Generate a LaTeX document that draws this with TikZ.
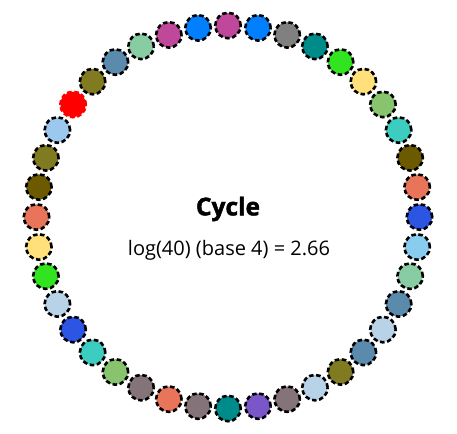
\documentclass[tikz,border=0pt]{standalone}
\usepackage{fontspec}
\usetikzlibrary{calc}
\setmainfont{Open Sans}
\newfontfamily\heavyfont[FakeBold=1.8]{Open Sans Bold}
\definecolor{cMag}{HTML}{C0489A}
\definecolor{cBlue}{HTML}{0080FF}
\definecolor{cGray}{HTML}{808080}
\definecolor{cTeal}{HTML}{008B8B}
\definecolor{cGreen}{HTML}{32E320}
\definecolor{cYellow}{HTML}{FFE07A}
\definecolor{cLgreen}{HTML}{88C46E}
\definecolor{cTurq}{HTML}{3CCCC0}
\definecolor{cDolive}{HTML}{6B5A00}
\definecolor{cSalmon}{HTML}{E8755A}
\definecolor{cRoyal}{HTML}{2C55E4}
\definecolor{cSky}{HTML}{88CDEE}
\definecolor{cMint}{HTML}{88CCA4}
\definecolor{cSteel}{HTML}{5A8AAC}
\definecolor{cLsteel}{HTML}{B8D2E8}
\definecolor{cOlive}{HTML}{807A20}
\definecolor{cMauve}{HTML}{85737A}
\definecolor{cPurple}{HTML}{7B56C8}
\definecolor{cRed}{HTML}{FF0000}
\definecolor{cLblue}{HTML}{9CC8F0}
\tikzset{
  ball/.style={circle, minimum size=25.5pt, inner sep=0pt, line width=2.6pt,
    draw=black, dash pattern=on 4.5pt off 2.6pt},
}
\begin{document}
\begin{tikzpicture}[x=1pt,y=-1pt]
\useasboundingbox (0,0) rectangle (457,433);
\coordinate (ctr) at (228,217);
\foreach \ang/\col [count=\i] in {
  90/cMag, 81/cBlue, 72/cGray, 63/cTeal, 54/cGreen, 45/cYellow, 36/cLgreen,
  27/cTurq, 18/cDolive, 9/cSalmon, 0/cRoyal, -9/cSky, -18/cMint, -27/cSteel,
  -36/cLsteel, -45/cSteel, -54/cOlive, -63/cLsteel, -72/cMauve, -81/cPurple,
  -90/cTeal, -99/cMauve, -108/cSalmon, -117/cMauve, -126/cLgreen, -135/cTurq,
  -144/cRoyal, -153/cLsteel, -162/cGreen, -171/cYellow, -180/cSalmon,
  -189/cDolive, -198/cOlive, -207/cLblue, -216/cRed, -225/cOlive,
  -234/cSteel, -243/cMint, -252/cMag, -261/cBlue} {
  \ifnum\i=35
    \node[ball, fill=\col, draw=\col] (b\i) at ($(ctr)+(\ang:191.5 and -191.5)$) {};
  \else
    \node[ball, fill=\col] (b\i) at ($(ctr)+(\ang:191.5 and -191.5)$) {};
  \fi
}
\node[font=\heavyfont\fontsize{24.5}{28}\selectfont] (title) at (228,209) {Cycle};
\node[font=\fontsize{20}{24}\selectfont] (sub) at (229,250) {log(40) (base 4) = 2.66};
\end{tikzpicture}
\end{document}
